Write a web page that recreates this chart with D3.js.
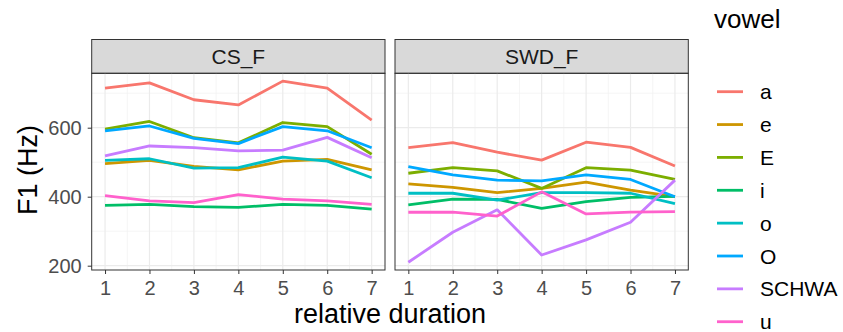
<!DOCTYPE html>
<html>
<head>
<meta charset="utf-8">
<script src="https://cdn.jsdelivr.net/npm/d3@7"></script>
<style>
  body { margin: 0; background: #fff; }
  svg text { font-family: "Liberation Sans", Arial, sans-serif; }
</style>
</head>
<body>
<svg id="chart" width="843" height="332"></svg>
<script>
// data ////////////////////////////////////////////////////////////////
var durations = [1, 2, 3, 4, 5, 6, 7];
var speakers = ["CS_F", "SWD_F"];
var vowels = ["a", "e", "E", "i", "o", "O", "SCHWA", "u"];
var colours = ["#F8766D", "#CD9600", "#7CAE00", "#00BE67", "#00BFC4", "#00A9FF", "#C77CFF", "#FF61CC"];
var yTicks = [200, 400, 600];

// F1 per vowel, CS_F
var cs_a     = [715, 730, 681, 666, 735, 715, 622];
var cs_e     = [496, 505, 488, 478, 503, 508, 478];
var cs_E     = [596, 618, 571, 556, 615, 603, 523];
var cs_i     = [375, 378, 371, 369, 378, 375, 364];
var cs_o     = [505, 510, 483, 484, 515, 503, 455];
var cs_O     = [591, 605, 569, 554, 603, 591, 542];
var cs_SCHWA = [518, 547, 542, 533, 535, 572, 513];
var cs_u     = [403, 388, 383, 406, 393, 388, 378];

// F1 per vowel, SWD_F
var swd_a     = [542, 557, 529, 506, 558, 543, 489];
var swd_e     = [437, 427, 412, 424, 442, 419, 400];
var swd_E     = [468, 484, 475, 424, 484, 477, 450];
var swd_i     = [376, 393, 392, 366, 386, 398, 401];
var swd_o     = [410, 410, 390, 412, 412, 410, 380];
var swd_O     = [487, 463, 448, 446, 463, 450, 400];
var swd_SCHWA = [210, 297, 362, 231, 275, 326, 448];
var swd_u     = [355, 355, 344, 414, 350, 355, 357];

var panels = [
    [cs_a, cs_e, cs_E, cs_i, cs_o, cs_O, cs_SCHWA, cs_u],
    [swd_a, swd_e, swd_E, swd_i, swd_o, swd_O, swd_SCHWA, swd_u]
];

// layout //////////////////////////////////////////////////////////////
var svg = d3.select("#chart"),
    panelX = [91.7, 395],
    panelW = 293.3,
    stripTop = 39.5,
    panelTop = 73.3,
    panelBottom = 270,
    font = "Liberation Sans, Arial, sans-serif";

var colour = d3.scaleOrdinal().domain(vowels).range(colours);

var y = d3.scaleLinear().domain([200, 600]).range([265.7, 127.7]);

speakers.forEach(function (sp, p) {
    var x = d3.scaleLinear().domain([0.7, 7.3]).range([panelX[p], panelX[p] + panelW]);
    var g = svg.append("g");

    // strip
    g.append("rect")
        .attr("x", panelX[p]).attr("y", stripTop)
        .attr("width", panelW).attr("height", panelTop - stripTop)
        .attr("fill", "#d9d9d9").attr("stroke", "#333").attr("stroke-width", 1);
    g.append("text")
        .attr("x", panelX[p] + panelW / 2).attr("y", 63.5)
        .attr("text-anchor", "middle").attr("font-size", 21).attr("fill", "#1a1a1a")
        .text(sp);

    // minor grid
    var minorX = d3.range(1.5, 7, 1);
    var minorY = [300, 500, 700];
    g.selectAll(".mx").data(minorX).enter().append("line")
        .attr("x1", d => x(d)).attr("x2", d => x(d))
        .attr("y1", panelTop).attr("y2", panelBottom)
        .attr("stroke", "#f3f3f3").attr("stroke-width", 0.8);
    g.selectAll(".my").data(minorY).enter().append("line")
        .attr("x1", panelX[p]).attr("x2", panelX[p] + panelW)
        .attr("y1", d => y(d)).attr("y2", d => y(d))
        .attr("stroke", "#f3f3f3").attr("stroke-width", 0.8);
    // major grid
    g.selectAll(".gx").data(durations).enter().append("line")
        .attr("x1", d => x(d)).attr("x2", d => x(d))
        .attr("y1", panelTop).attr("y2", panelBottom)
        .attr("stroke", "#ebebeb").attr("stroke-width", 1.2);
    g.selectAll(".gy").data(yTicks).enter().append("line")
        .attr("x1", panelX[p]).attr("x2", panelX[p] + panelW)
        .attr("y1", d => y(d)).attr("y2", d => y(d))
        .attr("stroke", "#ebebeb").attr("stroke-width", 1.2);

    // lines
    var line = d3.line().x((d, i) => x(durations[i])).y(d => y(d));
    panels[p].forEach(function (vals, v) {
        g.append("path")
            .attr("d", line(vals))
            .attr("fill", "none")
            .attr("stroke", colour(vowels[v]))
            .attr("stroke-width", 2.8)
            .attr("stroke-linejoin", "round");
    });

    // panel border
    g.append("rect")
        .attr("x", panelX[p]).attr("y", panelTop)
        .attr("width", panelW).attr("height", panelBottom - panelTop)
        .attr("fill", "none").attr("stroke", "#333").attr("stroke-width", 1);

    // x axis
    var xAxis = g.append("g")
        .attr("transform", "translate(0," + panelBottom + ")")
        .call(d3.axisBottom(x).tickValues(durations).tickSize(4).tickPadding(7).tickFormat(d3.format("d")));
    xAxis.select(".domain").remove();
    xAxis.selectAll("line").attr("stroke", "#333");
    xAxis.selectAll("text").attr("font-size", 20).attr("fill", "#4d4d4d").style("font-family", font);

    if (p === 0) {
        var yAxis = g.append("g")
            .attr("transform", "translate(" + panelX[p] + ",0)")
            .call(d3.axisLeft(y).tickValues(yTicks).tickSize(4).tickPadding(6));
        yAxis.select(".domain").remove();
        yAxis.selectAll("line").attr("stroke", "#333");
        yAxis.selectAll("text").attr("font-size", 20).attr("fill", "#4d4d4d").style("font-family", font);
    }
});

// axis titles
svg.append("text")
    .attr("x", (panelX[0] + panelX[1] + panelW) / 2).attr("y", 323)
    .attr("text-anchor", "middle").attr("font-size", 27).attr("fill", "#000")
    .text("relative duration");
svg.append("text")
    .attr("transform", "translate(37," + 170 + ") rotate(-90)")
    .attr("text-anchor", "middle").attr("font-size", 27).attr("fill", "#000")
    .text("F1 (Hz)");

// legend
var legend = svg.append("g");
legend.append("text")
    .attr("x", 714).attr("y", 28)
    .attr("font-size", 26).attr("fill", "#000")
    .text("vowel");
var rows = legend.selectAll(".key").data(vowels).enter().append("g")
    .attr("transform", (d, i) => "translate(0," + (91.7 + i * 32.86) + ")");
rows.append("line")
    .attr("x1", 717).attr("x2", 743)
    .attr("stroke", d => colour(d)).attr("stroke-width", 2.8);
rows.append("text")
    .attr("x", 760).attr("y", 7.5)
    .attr("font-size", 21).attr("fill", "#000")
    .text(d => d);
</script>
</body>
</html>
